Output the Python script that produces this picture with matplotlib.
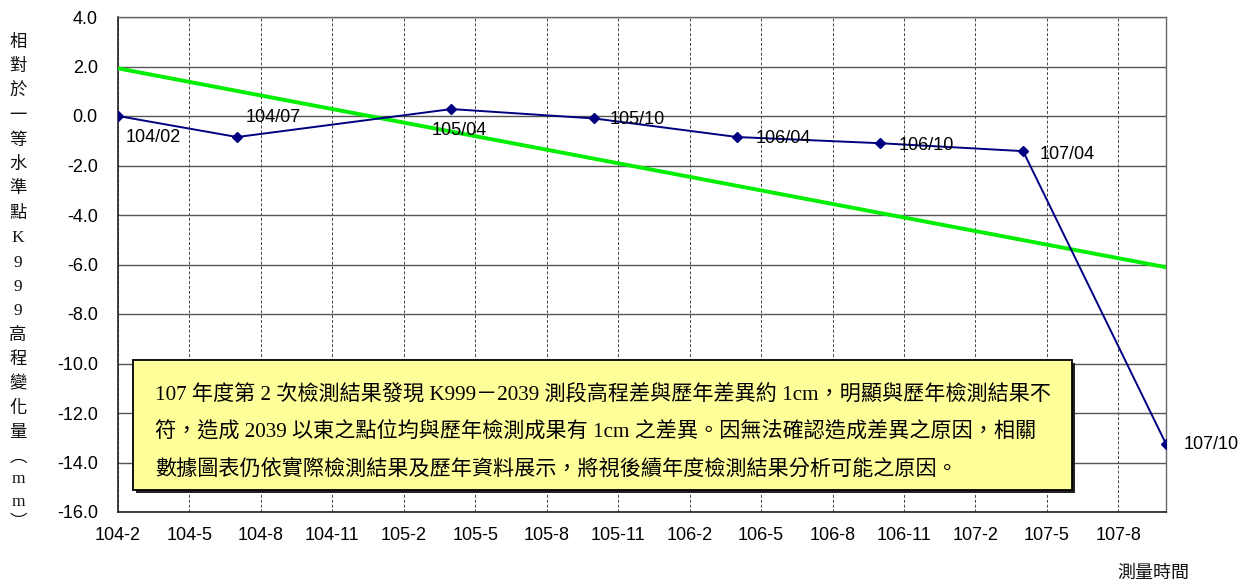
import numpy as np
import matplotlib
matplotlib.use("Agg")
import matplotlib.pyplot as plt
from matplotlib.patches import Rectangle

# --- data -------------------------------------------------------------
tick_labels = ['104-2', '104-5', '104-8', '104-11', '105-2', '105-5', '105-8',
               '105-11', '106-2', '106-5', '106-8', '106-11', '107-2', '107-5', '107-8']
survey_labels = ['104/02', '104/07', '105/04', '105/10', '106/04', '106/10', '107/04', '107/10']
survey_months = [0, 5, 14, 20, 26, 32, 38, 44]          # months since 104-2
elevation_change = [0.0, -0.85, 0.28, -0.10, -0.85, -1.10, -1.42, -13.25]   # mm

note_lines = [
    '107 年度第 2 次檢測結果發現 K999－2039 測段高程差與歷年差異約 1cm，明顯與歷年檢測結果不',
    '符，造成 2039 以東之點位均與歷年檢測成果有 1cm 之差異。因無法確認造成差異之原因，相關',
    '數據圖表仍依實際檢測結果及歷年資料展示，將視後續年度檢測結果分析可能之原因。',
]
ylabel_chars = ['相', '對', '於', '一', '等', '水', '準', '點', 'K', '9', '9', '9',
                '高', '程', '變', '化', '量', '︵', 'm', 'm', '︶']
xlabel_text = '測量時間'

# --- figure -----------------------------------------------------------
W, H = 1257, 585
fig = plt.figure(figsize=(W / 100, H / 100), dpi=100)
fig.patch.set_facecolor('white')

def fx(px):
    return px / W

def fy(py):
    return 1 - py / H

left, right, top, bottom = 118, 1166, 17, 512
ax = fig.add_axes([fx(left), fy(bottom), fx(right) - fx(left), fy(top) - fy(bottom)])

sans = ['Liberation Sans', 'DejaVu Sans']
cjk_serif = ['Liberation Serif', 'Noto Sans CJK TC', 'DejaVu Sans']

x = np.array(survey_months, dtype=float)
y = np.array(elevation_change, dtype=float)

# linear trend of the survey series
slope, intercept = np.polyfit(x, y, 1)
x_trend = np.array([0, 44], dtype=float)
ax.plot(x_trend, slope * x_trend + intercept, color='#00EE00', lw=2.8,
        solid_capstyle='butt', zorder=4)

ax.plot(x, y, color='#000080', lw=1.4, marker='D', markersize=5.5,
        markerfacecolor='#000080', markeredgecolor='#000080', zorder=5)

# point labels (offsets in pixels)
label_offsets = [(8, -22), (9, 20), (-20, -21), (15, -1), (18, -1), (18, -2), (17, -3), (18, -1)]
for lab, xi, yi, (dx, dy) in zip(survey_labels, x, y, label_offsets):
    ax.annotate(lab, (xi, yi), xytext=(dx, dy), textcoords='offset pixels',
                ha='left', va='center', fontsize=13, family=sans, color='black', zorder=6)

# axes ranges and ticks
ax.set_xlim(0, 44)
ax.set_ylim(-16, 4)
ax.set_xticks(np.arange(0, 44, 3))
ax.set_xticklabels(tick_labels, family=sans, fontsize=13)
yt = np.arange(-16, 4.01, 2)
ax.set_yticks(yt)
ax.set_yticklabels([f'{v:.1f}' for v in yt], family=sans, fontsize=13)
ax.tick_params(axis='both', length=0)
ax.tick_params(axis='x', pad=10.5)
ax.tick_params(axis='y', pad=14.5)

ax.grid(axis='y', color='#555555', lw=1.0, ls='-', zorder=0)
ax.grid(axis='x', color='#444444', lw=0.7, ls=(0, (3, 2)), zorder=0)
for side in ['left', 'bottom']:
    ax.spines[side].set_color('#222222')
    ax.spines[side].set_linewidth(1.2)
for side in ['top', 'right']:
    ax.spines[side].set_color('#666666')
    ax.spines[side].set_linewidth(1.0)
ax.set_axisbelow(True)

# note box with shadow
bx0, by0, bx1, by1 = 133, 360, 1072, 490
shadow = Rectangle((fx(bx0 + 3), fy(by1 + 3)), fx(bx1) - fx(bx0), fy(by0) - fy(by1),
                   transform=fig.transFigure, facecolor='#222222', edgecolor='none', zorder=7)
box = Rectangle((fx(bx0), fy(by1)), fx(bx1) - fx(bx0), fy(by0) - fy(by1),
                transform=fig.transFigure, facecolor='#FFFF99', edgecolor='black',
                lw=1.3, zorder=8)
fig.add_artist(shadow)
fig.add_artist(box)
for i, line in enumerate(note_lines):
    fig.text(fx(155), fy(395 + 37.5 * i), line, ha='left', va='center',
             fontsize=15.2, family=cjk_serif, color='black', zorder=9)

# vertical y-axis title, one glyph per row
advances = [24.4] * 17 + [21, 23, 21, 15]
ypos = 43.0
for i, ch in enumerate(ylabel_chars):
    if i > 0:
        ypos += advances[i - 1]
    fig.text(fx(18), fy(ypos), ch, ha='center', va='center', fontsize=12.5,
             family=cjk_serif, color='#111111')

fig.text(fx(1153), fy(573), xlabel_text, ha='center', va='center', fontsize=13,
         family=cjk_serif, color='#111111')

fig.savefig('out.png', dpi=100)
